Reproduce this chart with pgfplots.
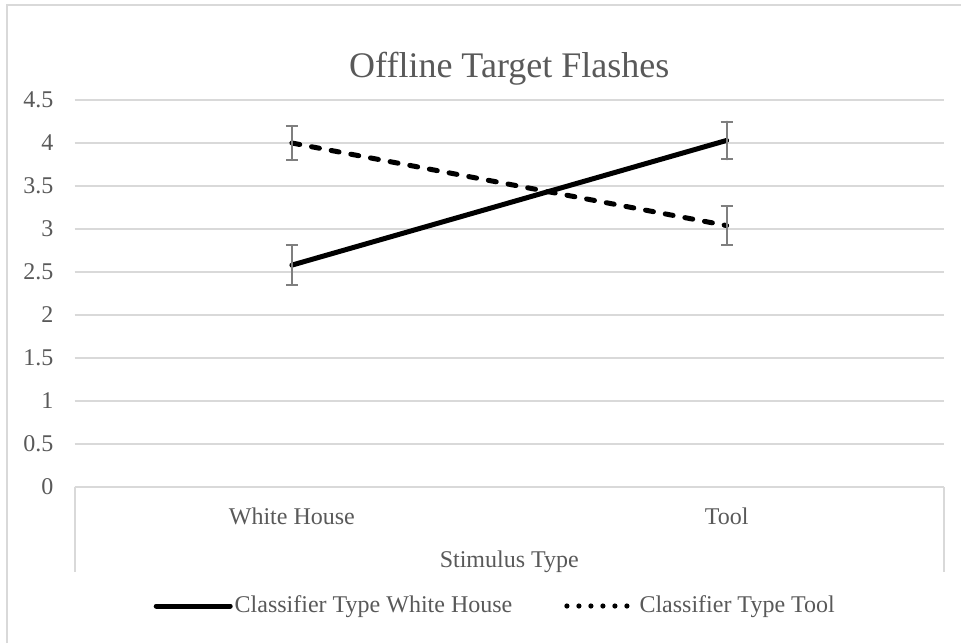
\documentclass[border=0pt]{standalone}
\usepackage{pgfplots}
\pgfplotsset{compat=1.18}
\usepackage{fontspec}
\setmainfont{Liberation Serif}
\definecolor{txt}{HTML}{595959}
\definecolor{grid}{HTML}{D9D9D9}
\definecolor{err}{HTML}{7F7F7F}
\begin{document}
\begin{tikzpicture}
\path[use as bounding box] (0,0) rectangle (480.5pt,321.5pt);
\draw[grid, line width=1pt] (3.5pt,0pt) -- (3.5pt,319pt) -- (480.5pt,319pt);
\begin{axis}[
  at={(37.25pt,78pt)}, anchor=south west,
  scale only axis, width=434.75pt, height=193.5pt,
  xmin=-0.5, xmax=1.5, ymin=0, ymax=4.5,
  xtick={0,1}, xticklabels={White House, Tool},
  ytick={0,0.5,1,1.5,2,2.5,3,3.5,4,4.5},
  yticklabels={0,0.5,1,1.5,2,2.5,3,3.5,4,4.5},
  major tick length=0pt,
  xtick style={draw=none}, ytick style={draw=none},
  axis line style={draw=none},
  xmajorgrids=false, ymajorgrids=true,
  y grid style={grid, line width=0.75pt},
  tick label style={font=\fontsize{12}{14}\selectfont, text=txt},
  yticklabel style={xshift=-7pt},
  xticklabel style={yshift=-7pt},
  /pgf/number format/assume math mode=true,
  xlabel={Stimulus Type},
  xlabel style={font=\fontsize{12}{14}\selectfont, text=txt, at={(axis description cs:0.5,0)}, anchor=center, yshift=-37.5pt},
  title={Offline Target Flashes},
  title style={font=\fontsize{18}{21}\selectfont, text=txt, at={(axis description cs:0.5,1)}, anchor=base, yshift=5.5pt},
  legend style={draw=none, fill=none, font=\fontsize{12}{14}\selectfont, text=txt,
    at={(axis description cs:0.5,0)}, anchor=center, yshift=-59.5pt, xshift=-7pt,
    legend columns=2, /tikz/every even column/.append style={column sep=22pt},
    nodes={inner xsep=1pt}},
  legend image code/.code={\draw[#1] (0pt,0pt) -- (37pt,0pt);},
  clip=false,
]
\draw[grid, line width=0.75pt] (rel axis cs:0,0) -- (rel axis cs:1,0);
\draw[grid, line width=1pt] (rel axis cs:0,0) -- ++(0pt,-42.5pt);
\draw[grid, line width=1pt] (rel axis cs:1,0) -- ++(0pt,-42.5pt);
\addplot[forget plot, black, line width=2.5pt, line cap=round,
  error bars/.cd, y dir=both, y explicit,
  error bar style={err, line width=1pt, solid},
  error mark options={rotate=90, mark size=3pt, line width=1pt, err}]
  coordinates {(0,2.58) +- (0,0.23) (1,4.03) +- (0,0.22)};
\addplot[forget plot, black, line width=2.5pt, line cap=round, dash pattern=on 4pt off 6pt,
  error bars/.cd, y dir=both, y explicit,
  error bar style={err, line width=1pt, solid},
  error mark options={rotate=90, mark size=3pt, line width=1pt, err}]
  coordinates {(0,4.00) +- (0,0.20) (1,3.04) +- (0,0.225)};
\addlegendimage{black, line width=2.5pt, line cap=round}
\addlegendentry{Classifier Type White House}
\addlegendimage{black, line width=2.6pt, line cap=round, dash pattern=on 0pt off 6pt, dash phase=-3pt}
\addlegendentry{Classifier Type Tool}
\end{axis}
\end{tikzpicture}
\end{document}
